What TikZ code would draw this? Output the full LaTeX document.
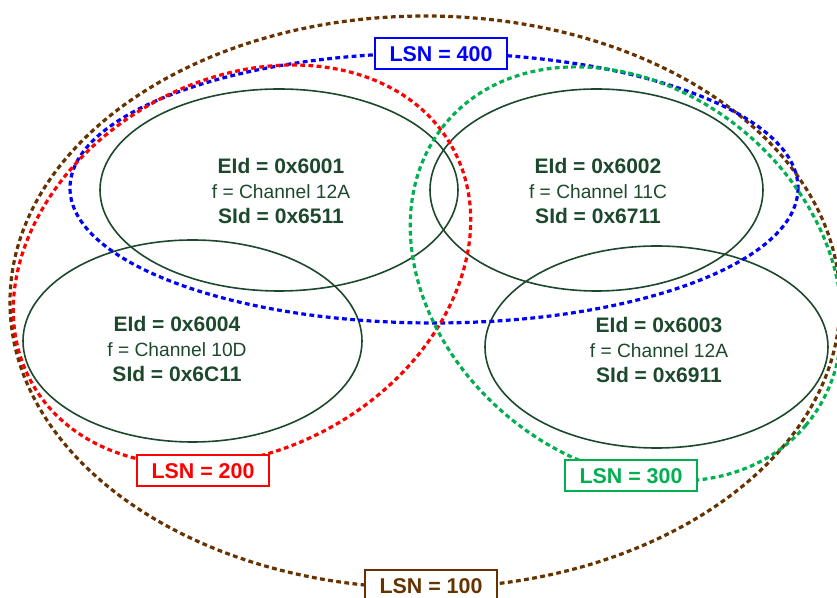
\documentclass[tikz,border=0pt]{standalone}
\usepackage{fontspec}
\setmainfont{Liberation Sans}
\usetikzlibrary{shapes.geometric}

\definecolor{cellgreen}{RGB}{28,72,44}
\definecolor{lsnblue}{RGB}{0,0,255}
\definecolor{lsnred}{RGB}{255,0,0}
\definecolor{lsngreen}{RGB}{0,176,80}
\definecolor{lsnbrown}{RGB}{102,51,0}

\newcommand{\bigid}[1]{{\fontsize{10.5}{12.5}\selectfont\bfseries #1}}

\begin{document}
\begin{tikzpicture}
	[x=0.5pt,y=-0.5pt,
	cell/.style={draw=cellgreen,line width=0.8pt,ellipse,inner sep=0pt},
	celltext/.style={text=cellgreen,align=center,font=\fontsize{9.6}{12.5}\selectfont},
	lsn/.style={line width=1.6pt,dash pattern=on 2.4pt off 1.7pt},
	tag/.style={draw,fill=white,line width=1pt,minimum width=66pt,minimum height=15.5pt,
		inner sep=0pt,font=\fontsize{10.7}{12}\selectfont\bfseries}]

	\useasboundingbox (0,0) rectangle (837,598);

	% the four cells
	\node[cell,minimum width=179pt,minimum height=101pt] (c6001) at (279,190) {};
	\node[cell,minimum width=166.5pt,minimum height=101pt] (c6002) at (596.5,190) {};
	\node[cell,minimum width=169.5pt,minimum height=101pt] (c6004) at (192.5,341) {};
	\node[cell,minimum width=171.5pt,minimum height=101pt] (c6003) at (656.5,347) {};

	\node[celltext] (t6001) at (281,191) {\bigid{EId = 0x6001}\\f = Channel 12A\\\bigid{SId = 0x6511}};
	\node[celltext] (t6002) at (598,191) {\bigid{EId = 0x6002}\\f = Channel 11C\\\bigid{SId = 0x6711}};
	\node[celltext] (t6004) at (177,349) {\bigid{EId = 0x6004}\\f = Channel 10D\\\bigid{SId = 0x6C11}};
	\node[celltext] (t6003) at (659,350) {\bigid{EId = 0x6003}\\f = Channel 12A\\\bigid{SId = 0x6911}};

	% location areas
	\draw[lsn,draw=lsnbrown] (425,302) ellipse [x radius=415, y radius=286];
	\draw[lsn,draw=lsnblue] (434,188) ellipse [x radius=364, y radius=135];
	\draw[lsn,draw=lsnred,rotate around={29.5:(242,265)}] (242,265) ellipse [x radius=241, y radius=185];
	\draw[lsn,draw=lsngreen,rotate around={-40:(626,274)}] (626,274) ellipse [x radius=235, y radius=185];

	\node[tag,draw=lsnblue,text=lsnblue] (lsn400) at (441,54) {LSN = 400};
	\node[tag,draw=lsnred,text=lsnred] (lsn200) at (203,471) {LSN = 200};
	\node[tag,draw=lsngreen,text=lsngreen] (lsn300) at (631,476) {LSN = 300};
	\node[tag,draw=lsnbrown,text=lsnbrown] (lsn100) at (431,586) {LSN = 100};

\end{tikzpicture}
\end{document}
